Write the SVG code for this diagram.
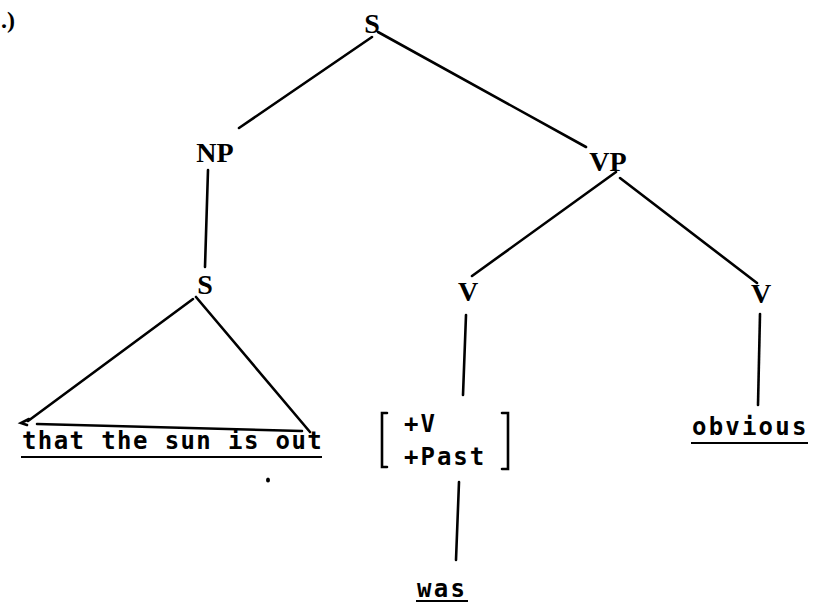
<svg xmlns="http://www.w3.org/2000/svg" width="815" height="603" viewBox="0 0 815 603">
<style>
.lbl{font-family:"Liberation Serif","DejaVu Serif",serif;font-weight:bold;font-size:28px;fill:#000;text-anchor:middle}
.word{font-family:"DejaVu Sans Mono","Liberation Mono",monospace;font-weight:bold;font-size:24px;fill:#000}
.ln{stroke:#000;stroke-width:2.6;fill:none;stroke-linecap:round}
.ul{stroke:#000;stroke-width:2.2;fill:none}
</style>
<rect width="815" height="603" fill="#fff"/>
<text x="1" y="28" style="font-family:'Liberation Serif',serif;font-weight:bold;font-size:24px">.)</text>
<g id="connectors">
<line class="ln" x1="372" y1="37" x2="239" y2="128"/>
<line class="ln" x1="378" y1="32" x2="586" y2="147"/>
<line class="ln" x1="208" y1="170" x2="205" y2="267"/>
<line class="ln" x1="616" y1="172" x2="472" y2="276"/>
<line class="ln" x1="620" y1="178" x2="757" y2="283"/>
<line class="ln" x1="193" y1="299" x2="28" y2="421"/>
<line class="ln" x1="196" y1="297" x2="310" y2="432"/>
<line class="ln" x1="37" y1="424" x2="302" y2="431"/>
<path class="ln" d="M29 419 L21 423 L27 425"/>
<line class="ln" x1="466" y1="315" x2="463" y2="395"/>
<line class="ln" x1="459" y1="482" x2="456" y2="560"/>
<line class="ln" x1="760" y1="314" x2="758" y2="405"/>
</g>
<g id="n-S"><text class="lbl" x="372" y="33">S</text></g>
<g id="n-NP"><text class="lbl" x="215" y="162">NP</text></g>
<g id="n-VP"><text class="lbl" x="608" y="171">VP</text></g>
<g id="n-S2"><text class="lbl" x="205" y="294">S</text></g>
<g id="n-V1"><text class="lbl" x="468" y="301">V</text></g>
<g id="n-V2"><text class="lbl" x="761" y="303">V</text></g>
<g id="n-that">
<text class="word" x="22" y="449" style="letter-spacing:1.4px">that the sun is out</text>
<line class="ul" x1="21" y1="457" x2="322" y2="457"/>
</g>
<g id="n-feat">
<path class="ln" d="M387 413 L382 413 L382 467 L387 467" stroke-width="2.2"/>
<path class="ln" d="M502 413 L508 413 L508 469 L502 469" stroke-width="2.2"/>
<text class="word" x="404" y="432" style="letter-spacing:2px">+V</text>
<text class="word" x="404" y="465" style="letter-spacing:2px">+Past</text>
</g>
<g id="n-was">
<text class="word" x="417" y="597" style="letter-spacing:2.3px">was</text>
<line class="ul" x1="416" y1="601" x2="468" y2="601"/>
</g>
<g id="n-obvious">
<text class="word" x="692" y="435" style="letter-spacing:2.2px">obvious</text>
<line class="ul" x1="691" y1="443" x2="808" y2="443"/>
</g>
<ellipse cx="268" cy="480" rx="2" ry="2.5" fill="#000"/>
</svg>
